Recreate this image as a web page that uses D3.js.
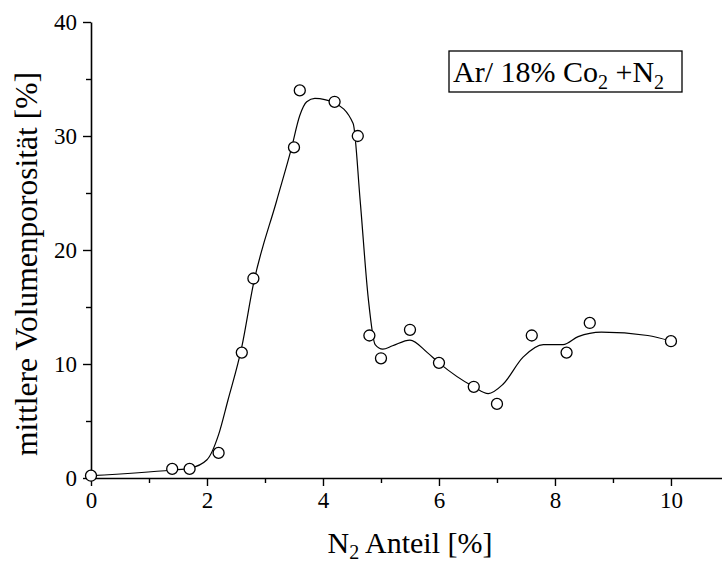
<!DOCTYPE html>
<html>
<head>
<meta charset="utf-8">
<script src="https://cdn.jsdelivr.net/npm/d3@7"></script>
<style>
  body { margin: 0; background: #fff; }
</style>
</head>
<body>
<div id="chart"></div>
<script>
// measured points
var n2 = [0, 1.4, 1.7, 2.2, 2.6, 2.8, 3.5, 3.6, 4.2, 4.6, 4.8, 5.0, 5.5, 6.0, 6.6, 7.0, 7.6, 8.2, 8.6, 10];
var porosity = [0.2, 0.8, 0.8, 2.2, 11, 17.5, 29, 34, 33, 30, 12.5, 10.5, 13, 10.1, 8.0, 6.5, 12.5, 11, 13.6, 12];

// fitted curve
var fitX = [0, 1.4, 1.7, 2.0, 2.2, 2.36, 2.6, 2.8, 3.2, 3.45, 3.6, 3.72, 3.86, 4.2, 4.52, 4.64, 4.78, 4.9, 5.03, 5.2, 5.5, 5.8, 6.0, 6.6, 6.85, 7.1, 7.45, 7.8, 8.14, 8.4, 8.8, 9.6, 10];
var fitY = [0.2, 0.7, 0.85, 1.6, 3.8, 6.8, 11.5, 17, 24.3, 28.8, 31.8, 33.0, 33.3, 32.9, 31.1, 24.4, 15.8, 11.7, 11.3, 11.6, 12.1, 11, 10.1, 8.0, 7.4, 8.2, 10.6, 11.7, 11.7, 12.4, 12.8, 12.5, 12.0];

var xTicks = [0, 2, 4, 6, 8, 10];
var xMinor = [1, 3, 5, 7, 9];
var yTicks = [0, 10, 20, 30, 40];
var yMinor = [5, 15, 25, 35];

var width = 722,
    height = 565;
var serif = "'Liberation Serif', 'Times New Roman', 'DejaVu Serif', serif";

var svg = d3.select("#chart")
    .append("svg")
    .attr("width", width)
    .attr("height", height)

var x = d3.scaleLinear().domain([0, 10.88]).range([91, 722])
var y = d3.scaleLinear().domain([0, 40]).range([478, 22])

// x axis
var xAxis = svg.append("g")
    .attr("transform", "translate(0," + y(0) + ")")
    .call(d3.axisBottom(x).tickValues(xTicks).tickSize(8).tickSizeOuter(0).tickPadding(5))
svg.append("g")
    .attr("transform", "translate(0," + y(0) + ")")
    .call(d3.axisBottom(x).tickValues(xMinor).tickSize(5).tickFormat(""))
    .select(".domain").remove()

// y axis
var yAxis = svg.append("g")
    .attr("transform", "translate(" + x(0) + ",0)")
    .call(d3.axisLeft(y).tickValues(yTicks).tickSize(8).tickSizeOuter(0).tickPadding(6))
svg.append("g")
    .attr("transform", "translate(" + x(0) + ",0)")
    .call(d3.axisLeft(y).tickValues(yMinor).tickSize(5).tickFormat(""))
    .select(".domain").remove()

svg.selectAll(".domain").attr("stroke-width", 1.6)
svg.selectAll(".tick line").attr("stroke-width", 1.4)
svg.selectAll(".tick text")
    .style("font-family", serif)
    .style("font-size", "23px")
    .style("fill", "#000")
xAxis.selectAll(".tick text").attr("dy", "0.72em")

// fitted curve
var fit = fitX.map(function(d, i) { return [d, fitY[i]] })
var line = d3.line()
    .x(function(d) { return x(d[0]) })
    .y(function(d) { return y(d[1]) })
    .curve(d3.curveMonotoneX)

svg.append("path")
    .datum(fit)
    .attr("d", line)
    .attr("fill", "none")
    .attr("stroke", "#000")
    .attr("stroke-width", 1.2)

// data points
svg.selectAll(".pt")
    .data(n2)
    .enter().append("circle")
    .attr("class", "pt")
    .attr("cx", function(d) { return x(d) })
    .attr("cy", function(d, i) { return y(porosity[i]) })
    .attr("r", 5.5)
    .attr("fill", "#fff")
    .attr("stroke", "#000")
    .attr("stroke-width", 1.3)

// axis titles
var xt = svg.append("text")
    .attr("x", 410)
    .attr("y", 553)
    .attr("text-anchor", "middle")
    .style("font-family", serif)
    .style("font-size", "30px")
xt.append("tspan").text("N")
xt.append("tspan").style("font-size", "20px").attr("dy", 6).text("2")
xt.append("tspan").attr("dy", -6).text(" Anteil [%]")

svg.append("text")
    .attr("transform", "translate(37,264) rotate(-90)")
    .attr("text-anchor", "middle")
    .style("font-family", serif)
    .style("font-size", "31.5px")
    .text("mittlere Volumenporosität [%]")

// legend box
svg.append("rect")
    .attr("x", 449)
    .attr("y", 51)
    .attr("width", 233)
    .attr("height", 41)
    .attr("fill", "none")
    .attr("stroke", "#000")
    .attr("stroke-width", 1.3)

var lg = svg.append("text")
    .attr("x", 453)
    .attr("y", 82)
    .style("font-family", serif)
    .style("font-size", "30px")
lg.append("tspan").text("Ar/ 18% Co")
lg.append("tspan").style("font-size", "20px").attr("dy", 7).text("2")
lg.append("tspan").attr("dy", -7).text(" +N")
lg.append("tspan").style("font-size", "20px").attr("dy", 7).text("2")
</script>
</body>
</html>
